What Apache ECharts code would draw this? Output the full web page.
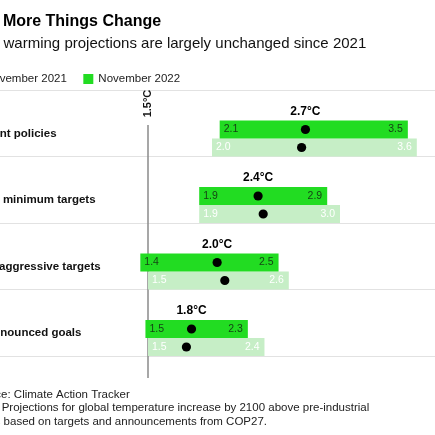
<!DOCTYPE html>
<html>
<head>
<meta charset="utf-8">
<script src="https://cdn.jsdelivr.net/npm/echarts@6/dist/echarts.min.js"></script>
<style>html,body{margin:0;padding:0;background:#fff;}#c{width:435px;height:435px;}</style>
</head>
<body>
<div id="c"></div>
<script>
const categories = ['Current policies', 'Basic minimum targets', 'Most aggressive targets', 'All announced goals'];
const low2022 = [2.06, 1.9, 1.44, 1.48];
const high2022 = [3.53, 2.9, 2.52, 2.28];
const mid2022 = [2.73, 2.36, 2.04, 1.84];
const low2021 = [2.0, 1.9, 1.5, 1.5];
const high2021 = [3.6, 3.0, 2.6, 2.41];
const mid2021 = [2.7, 2.4, 2.1, 1.8];
const threshold = 1.5;
const seriesNames = ['November 2021', 'November 2022'];

const FONT = '"Liberation Sans", Arial, Helvetica, sans-serif';
const GREEN = '#22dc22';
const LIGHT = '#c6eec6';

function rows(lo, hi, mid) {
  return categories.map((c, i) => [lo[i], hi[i], mid[i], i]);
}

function makeRender(isNew) {
  return function (params, api) {
    const cat = api.value(3);
    const p0 = api.coord([api.value(0), cat]);
    const p1 = api.coord([api.value(1), cat]);
    const pm = api.coord([api.value(2), cat]);
    const bandH = api.size([0, 1])[1];
    const barH = 18;
    const bottom = p0[1] + bandH / 2;
    const y = isNew ? bottom - 2 * barH : bottom - barH;
    const cy = y + barH / 2;
    const lblColor = isNew ? '#153f15' : '#ffffff';
    const children = [
      { type: 'rect', shape: { x: p0[0], y: y, width: p1[0] - p0[0], height: barH }, style: { fill: isNew ? GREEN : LIGHT } },
      { type: 'text', style: { text: api.value(0).toFixed(1), x: p0[0] + 4, y: cy, textAlign: 'left', align: 'left', textVerticalAlign: 'middle', verticalAlign: 'middle', fill: lblColor, fontSize: 10.5, fontFamily: FONT } },
      { type: 'text', style: { text: api.value(1).toFixed(1), x: p1[0] - 5, y: cy, textAlign: 'right', align: 'right', textVerticalAlign: 'middle', verticalAlign: 'middle', fill: lblColor, fontSize: 10.5, fontFamily: FONT } },
      { type: 'circle', shape: { cx: pm[0], cy: cy, r: 4.6 }, style: { fill: '#000' } }
    ];
    if (isNew) {
      children.push({ type: 'text', style: { text: api.value(2).toFixed(1) + '°C', x: pm[0], y: y - 9, textAlign: 'center', align: 'center', textVerticalAlign: 'middle', verticalAlign: 'middle', fill: '#000', fontSize: 12, fontWeight: 'bold', fontFamily: FONT } });
    }
    return { type: 'group', children: children };
  };
}

const chart = echarts.init(document.getElementById('c'), null, { renderer: 'canvas' });
chart.setOption({
  animation: false,
  backgroundColor: '#fff',
  title: [
    { text: 'The More Things Change', left: -30, top: 14, padding: 0, textStyle: { fontSize: 16, fontWeight: 'bold', color: '#000', fontFamily: FONT } },
    { text: 'Global warming projections are largely unchanged since 2021', left: -44, top: 36, padding: 0, textStyle: { fontSize: 15, fontWeight: 'normal', color: '#111', fontFamily: FONT } },
    { text: 'Source: Climate Action Tracker\nNote: Projections for global temperature increase by 2100 above pre-industrial\nlevels based on targets and announcements from COP27.', left: -29, top: 388, padding: 0, textStyle: { fontSize: 11.5, lineHeight: 13.5, fontWeight: 'normal', color: '#222', fontFamily: FONT } }
  ],
  legend: {
    data: seriesNames,
    left: -30, top: 73, padding: 0,
    icon: 'rect', itemWidth: 10, itemHeight: 10, itemGap: 16.5,
    textStyle: { fontSize: 11.5, color: '#222', fontFamily: FONT }
  },
  grid: { left: -12, right: -1, top: 90, bottom: 79, containLabel: false, outerBoundsMode: 'none' },
  xAxis: { type: 'value', min: 0.25, max: 3.75, show: false },
  yAxis: {
    type: 'category', data: categories, inverse: true,
    axisLine: { show: false }, axisTick: { show: false },
    splitLine: { show: true, lineStyle: { color: '#e2e2e2', width: 1 } },
    axisLabel: { align: 'left', margin: 19, fontSize: 11.5, fontWeight: 'bold', color: '#111', fontFamily: FONT, verticalAlign: 'top', lineHeight: 21 }
  },
  series: [
    {
      type: 'custom', name: 'threshold', silent: true, z: 1,
      data: [[threshold, 0]],
      encode: { x: 0, y: 1 },
      renderItem: function (params, api) {
        const x = api.coord([api.value(0), 0])[0];
        const cs = params.coordSys;
        return { type: 'group', children: [
          { type: 'line', shape: { x1: x, y1: cs.y + 35, x2: x, y2: cs.y + cs.height + 22 }, style: { stroke: '#8a8a8a', lineWidth: 1.5 } },
          { type: 'text', x: x, y: cs.y + 13.5, rotation: Math.PI / 2, style: { text: threshold.toFixed(1) + '°C', x: 0, y: 0, textAlign: 'center', align: 'center', textVerticalAlign: 'middle', verticalAlign: 'middle', fill: '#111', fontSize: 11, fontWeight: 'bold', fontFamily: FONT } }
        ] };
      }
    },
    { type: 'custom', name: seriesNames[0], z: 2, itemStyle: { color: LIGHT }, data: rows(low2021, high2021, mid2021), encode: { x: [0, 1, 2], y: 3 }, renderItem: makeRender(false) },
    { type: 'custom', name: seriesNames[1], z: 3, itemStyle: { color: GREEN }, data: rows(low2022, high2022, mid2022), encode: { x: [0, 1, 2], y: 3 }, renderItem: makeRender(true) }
  ]
});
</script>
</body>
</html>
